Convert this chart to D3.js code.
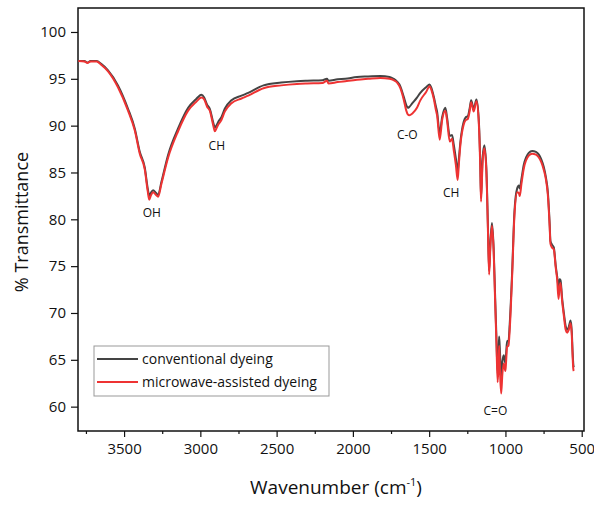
<!DOCTYPE html>
<html>
<head>
<meta charset="utf-8">
<script src="https://cdn.jsdelivr.net/npm/d3@7"></script>
<style>
  body { margin: 0; background: #fff; }
  text { font-family: "Open Sans", "DejaVu Sans", sans-serif; }
</style>
</head>
<body>
<div id="chart"></div>
<script>
// FTIR spectra (wavenumber in cm-1, % transmittance)
var wavenumber = [3800, 3760, 3740, 3720, 3680, 3650, 3605, 3540, 3474, 3430, 3397, 3364, 3345, 3335, 3325, 3310, 3290, 3277, 3255, 3211,
  3146, 3080, 3030, 2993, 2975, 2955, 2938, 2915, 2905, 2895, 2883, 2862, 2840, 2796, 2730, 2686, 2586, 2470, 2367, 2300,
  2200, 2170, 2160, 2100, 2050, 1973, 1900, 1820, 1760, 1733, 1710, 1689, 1667, 1650, 1640, 1630, 1610, 1580, 1558, 1520,
  1497, 1485, 1470, 1455, 1448, 1431, 1415, 1394, 1383, 1365, 1350, 1339, 1325, 1313, 1305, 1295, 1274, 1260, 1247, 1235,
  1225, 1208, 1190, 1175, 1165, 1160, 1150, 1138, 1125, 1115, 1107, 1098, 1088, 1077, 1068, 1059, 1051, 1045, 1041, 1035,
  1028, 1020, 1011, 1000, 995, 989, 980, 972, 956, 941, 923, 912, 906, 895, 880, 847, 825, 800, 781, 765,
  749, 735, 722, 710, 705, 695, 683, 670, 661, 652, 645, 639, 628, 617, 605, 595, 585, 573, 565, 560, 555, 552];

var conventional = [96.9, 96.9, 96.75, 96.9, 96.9, 96.6, 95.9, 94.3, 91.8, 89.7, 87.2, 85.5, 83.3, 82.5, 82.8, 83.1, 82.8, 82.6, 84.0, 86.9,
  89.7, 91.9, 92.8, 93.3, 93.0, 92.2, 91.8, 90.3, 89.8, 90.0, 90.4, 90.9, 91.8, 92.7, 93.2, 93.5, 94.3, 94.6, 94.75, 94.8,
  94.85, 95.0, 94.8, 94.95, 95.0, 95.2, 95.25, 95.3, 95.2, 95.0, 94.7, 94.2, 93.1, 92.2, 91.9, 92.0, 92.4, 93.0, 93.5, 94.1,
  94.4, 94.0, 93.1, 92.0, 91.5, 89.2, 90.9, 91.9, 90.9, 88.9, 89.0, 88.0, 86.5, 85.1, 86.5, 88.3, 90.4, 90.9, 91.0, 91.8,
  92.7, 91.8, 92.8, 90.7, 86.0, 82.3, 86.5, 87.9, 85.4, 79.5, 74.5, 77.8, 79.6, 76.8, 72.0, 67.3, 63.5, 66.0, 67.5, 65.5,
  63.0, 64.8, 65.5, 64.6, 65.8, 67.0, 67.0, 68.8, 74.4, 80.8, 83.3, 83.6, 83.3, 84.3, 85.8, 87.1, 87.3, 87.2, 86.9, 86.4,
  85.6, 84.5, 82.9, 79.5, 77.7, 77.3, 77.0, 75.0, 73.9, 72.8, 73.6, 73.5, 71.5, 70.0, 68.6, 68.2, 68.5, 69.2, 68.0, 66.0, 64.5, 64.2];

var microwave = [96.9, 96.85, 96.7, 96.85, 96.85, 96.5, 95.8, 94.1, 91.6, 89.5, 87.0, 85.3, 83.0, 82.1, 82.5, 82.9, 82.6, 82.4, 83.8, 86.6,
  89.4, 91.6, 92.5, 93.0, 92.8, 92.0, 91.6, 90.0, 89.4, 89.7, 90.1, 90.6, 91.5, 92.4, 92.9, 93.2, 94.0, 94.3, 94.45, 94.5,
  94.55, 94.8, 94.5, 94.65, 94.75, 94.9, 95.0, 95.1, 95.0, 94.85, 94.6, 94.0, 92.8, 91.6, 91.2, 91.1, 91.3, 91.9, 92.7, 93.6,
  94.2, 93.8, 92.9, 91.6, 91.1, 88.5, 90.6, 91.6, 90.6, 88.3, 88.6, 87.4, 85.8, 84.2, 86.0, 88.0, 90.1, 90.6, 90.7, 91.5,
  92.5, 91.5, 92.6, 90.4, 85.5, 81.9, 86.0, 87.6, 85.1, 79.0, 74.1, 77.3, 79.3, 76.5, 71.5, 66.8, 62.6, 64.5, 66.5, 63.5,
  61.4, 63.5, 64.6, 63.8, 65.0, 66.4, 66.5, 68.2, 74.0, 80.4, 82.9, 82.8, 82.5, 83.8, 85.4, 86.8, 87.0, 86.9, 86.6, 86.1,
  85.3, 84.3, 82.6, 79.2, 77.4, 77.0, 76.8, 74.8, 73.6, 71.5, 72.8, 73.2, 71.2, 69.7, 68.2, 67.9, 68.2, 68.9, 67.6, 65.5, 64.0, 63.8];

var seriesNames = ["conventional dyeing", "microwave-assisted dyeing"];
var seriesColors = ["#444444", "#ee3333"];

var xTicks = [3500, 3000, 2500, 2000, 1500, 1000, 500];
var xMinor = [3750, 3250, 2750, 2250, 1750, 1250, 750];
var yTicks = [60, 65, 70, 75, 80, 85, 90, 95, 100];

var peakLabels = [
  {text: "OH",  wn: 3318, t: 80.3},
  {text: "CH",  wn: 2892, t: 87.4},
  {text: "C-O", wn: 1643, t: 88.6},
  {text: "CH",  wn: 1356, t: 82.4},
  {text: "C=O", wn: 1066, t: 59.1}
];

var margin = {top: 8, right: 10, bottom: 75, left: 78},
    width = 594 - margin.left - margin.right,
    height = 506 - margin.top - margin.bottom;

var svg = d3.select("#chart")
  .append("svg")
    .attr("width", 594)
    .attr("height", 506)
  .append("g")
    .attr("transform", `translate(${margin.left},${margin.top})`);

var x = d3.scaleLinear().domain([3802, 485]).range([0, width]);
var y = d3.scaleLinear().domain([57.4, 102.56]).range([height, 0]);

// x axis
svg.append("g")
  .attr("transform", `translate(0,${height})`)
  .call(d3.axisBottom(x).tickValues(xTicks).tickSize(6).tickPadding(6).tickFormat(d3.format("d")));
svg.append("g")
  .attr("transform", `translate(0,${height})`)
  .call(d3.axisBottom(x).tickValues(xMinor).tickSize(3).tickFormat(""));

// y axis
svg.append("g")
  .call(d3.axisLeft(y).tickValues(yTicks).tickSize(7).tickPadding(5));

svg.selectAll(".tick text")
  .attr("font-size", 15)
  .attr("fill", "#111");
svg.selectAll(".tick line").attr("stroke", "#111").attr("stroke-width", 1.2);
svg.selectAll(".domain").remove();

// frame
svg.append("rect")
  .attr("x", 0).attr("y", 0)
  .attr("width", width).attr("height", height)
  .attr("fill", "none")
  .attr("stroke", "#111")
  .attr("stroke-width", 1.5);

// spectra
[conventional, microwave].forEach(function(vals, i) {
  svg.append("path")
    .datum(wavenumber.map(function(w, j) { return [w, vals[j]]; }))
    .attr("fill", "none")
    .attr("stroke", seriesColors[i])
    .attr("stroke-width", 2)
    .attr("stroke-linejoin", "round")
    .attr("d", d3.line()
      .curve(d3.curveMonotoneX)
      .x(function(d) { return x(d[0]); })
      .y(function(d) { return y(d[1]); }));
});

// peak labels
svg.selectAll(".peak")
  .data(peakLabels)
  .enter().append("text")
    .attr("class", "peak")
    .attr("x", function(d) { return x(d.wn); })
    .attr("y", function(d) { return y(d.t); })
    .attr("text-anchor", "middle")
    .attr("font-size", 12)
    .attr("fill", "#111")
    .text(function(d) { return d.text; });

// legend
var legend = svg.append("g").attr("transform", "translate(16,338)");
legend.append("rect")
  .attr("width", 235).attr("height", 50)
  .attr("fill", "#fff")
  .attr("stroke", "#999")
  .attr("stroke-width", 1);
seriesNames.forEach(function(name, i) {
  var ly = 13 + i * 23;
  legend.append("line")
    .attr("x1", 3).attr("x2", 44)
    .attr("y1", ly).attr("y2", ly)
    .attr("stroke", seriesColors[i])
    .attr("stroke-width", 2);
  legend.append("text")
    .attr("x", 48).attr("y", ly + 5)
    .attr("font-size", 14)
    .attr("fill", "#111")
    .text(name);
});

// axis titles
var xt = svg.append("text")
  .attr("x", width / 2 + 5)
  .attr("y", height + 63)
  .attr("text-anchor", "middle")
  .attr("font-size", 19)
  .attr("fill", "#111");
xt.append("tspan").text("Wavenumber (cm");
xt.append("tspan").attr("font-size", 11).attr("dy", -8).text("-1");
xt.append("tspan").attr("dy", 8).text(")");

svg.append("text")
  .attr("transform", "rotate(-90)")
  .attr("x", -(214))
  .attr("y", -margin.left + 28)
  .attr("text-anchor", "middle")
  .attr("font-size", 18)
  .attr("fill", "#111")
  .text("% Transmittance");
</script>
</body>
</html>
